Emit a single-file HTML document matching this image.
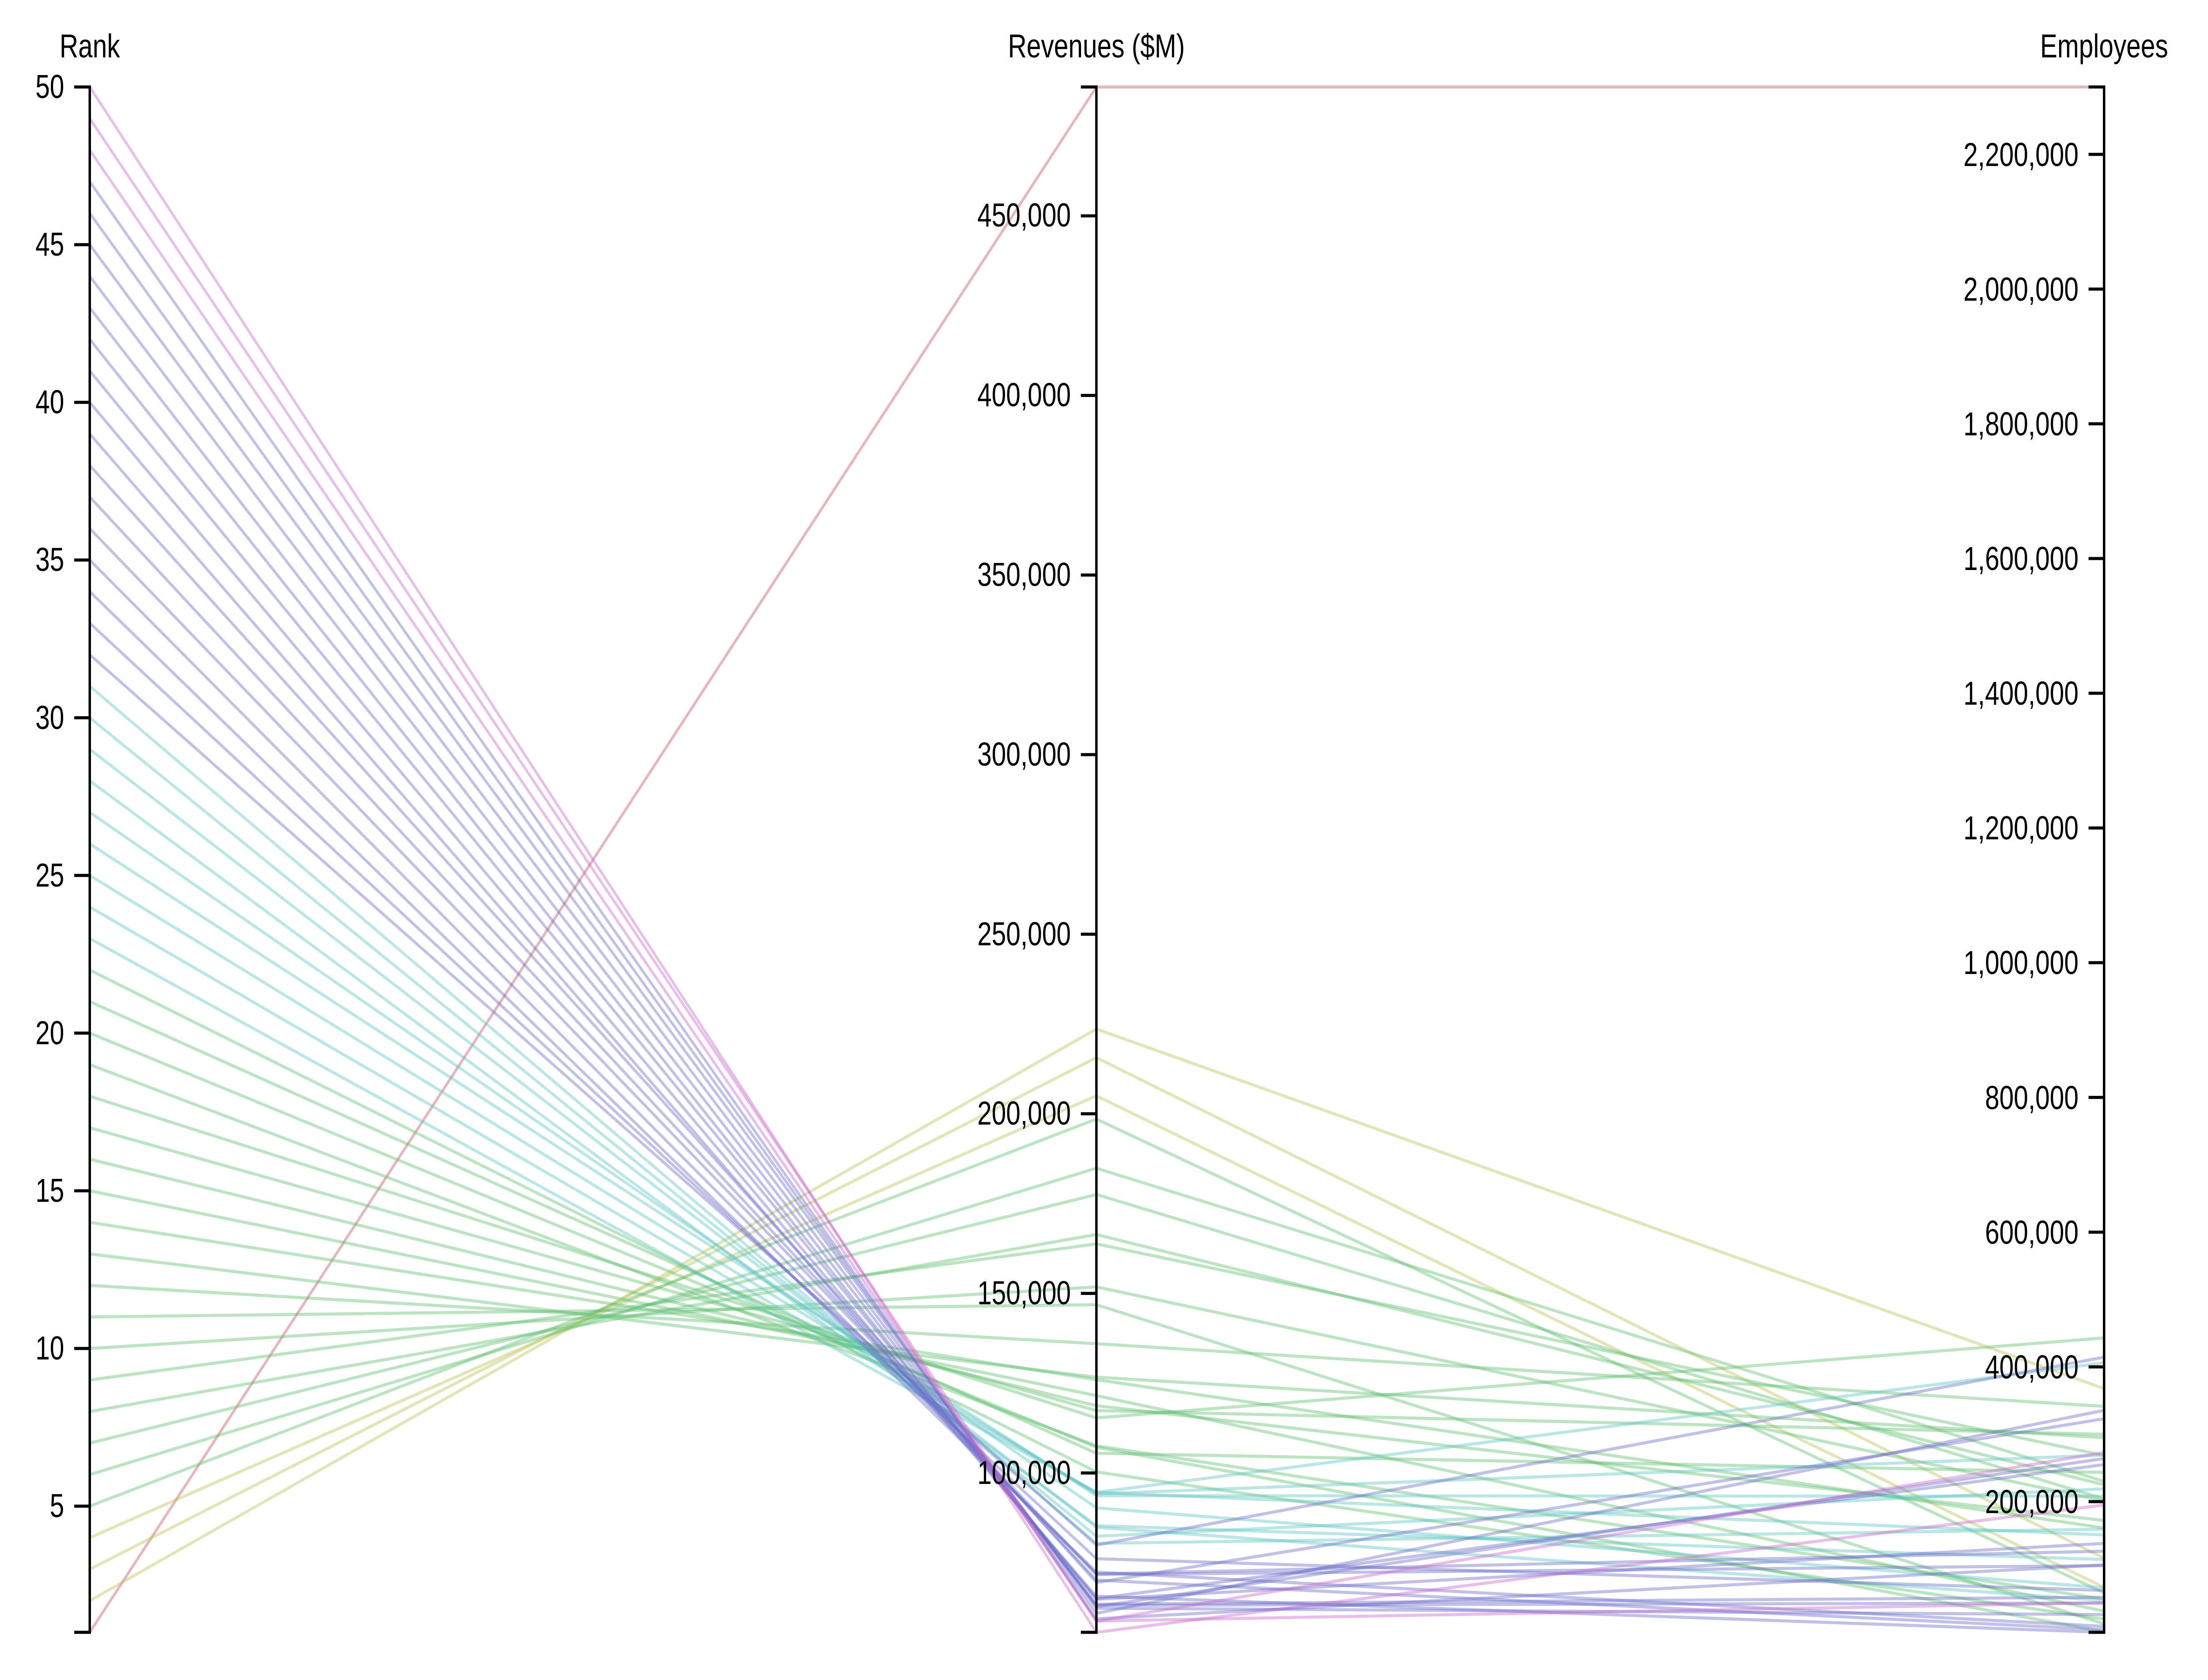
<!DOCTYPE html>
<html><head><meta charset="utf-8"><style>
html,body{margin:0;padding:0;background:#fff;width:100%;height:100%;overflow:hidden}
svg{display:block;width:100vw;height:100vh}
text{font-family:"Liberation Sans",Arial,sans-serif;fill:#000}
</style></head><body>
<svg id="s" viewBox="0 0 6396 3805" preserveAspectRatio="none" xmlns="http://www.w3.org/2000/svg">
<g id="lines" fill="none" stroke-width="7" stroke-opacity="0.42"></g>
<g stroke="#000" stroke-width="7" fill="none">
<path d="M215,197H260V3697H215"/>
<path d="M3131,197H3176V3697H3131"/>
<path d="M6050,197H6095V3697H6050"/>
</g>
<g id="ticks" stroke="#000" stroke-width="7"></g>
<g font-size="75" text-anchor="middle">
<text x="260" y="130">Rank</text>
<text x="3176" y="130">Revenues ($M)</text>
<text x="6095" y="130">Employees</text>
</g>
<g font-size="75" text-anchor="end" dominant-baseline="central">
<text x="186" y="197">50</text><text x="186" y="554">45</text><text x="186" y="911">40</text><text x="186" y="1268">35</text><text x="186" y="1626">30</text><text x="186" y="1983">25</text><text x="186" y="2340">20</text><text x="186" y="2697">15</text><text x="186" y="3054">10</text><text x="186" y="3411">5</text>
<text x="3102" y="3336">100,000</text><text x="3102" y="2929">150,000</text><text x="3102" y="2522">200,000</text><text x="3102" y="2116">250,000</text><text x="3102" y="1709">300,000</text><text x="3102" y="1302">350,000</text><text x="3102" y="895">400,000</text><text x="3102" y="488">450,000</text>
<text x="6021" y="3402">200,000</text><text x="6021" y="3097">400,000</text><text x="6021" y="2792">600,000</text><text x="6021" y="2487">800,000</text><text x="6021" y="2181">1,000,000</text><text x="6021" y="1876">1,200,000</text><text x="6021" y="1571">1,400,000</text><text x="6021" y="1266">1,600,000</text><text x="6021" y="961">1,800,000</text><text x="6021" y="656">2,000,000</text><text x="6021" y="351">2,200,000</text>
</g>
</svg>
<script>
var d=[[1,485873,2300000],[2,223604,367700],[3,215639,116000],[4,205004,72700],[5,198533,64500],[6,184840,230000],[7,177526,204000],[8,166380,225000],[9,163786,268540],[10,151800,201000],[11,146849,18500],[12,135987,341400],[13,126661,295000],[14,125980,160900],[15,121546,37300],[16,118719,172000],[17,117351,300000],[18,115337,443000],[19,107567,55200],[20,107162,7000],[21,105486,243355],[22,100288,25600],[23,94595,406000],[24,94571,150500],[25,94176,269100],[26,93662,208024],[27,90272,72053],[28,85320,114000],[29,84863,53000],[30,82386,219000],[31,80403,159000],[32,79919,414400],[33,76132,68234],[34,72396,14800],[35,71890,126400],[36,71726,105000],[37,70166,9996],[38,69495,323000],[39,65665,5982],[40,65017,255000],[41,64806,138000],[42,63476,58000],[43,63155,49500],[44,62799,264000],[45,62346,32300],[46,60906,335520],[47,59387,106000],[48,58779,49739],[49,58734,273000],[50,55632,195000]];
var T=197,B=3697,H=B-T;
function y(v,a,b){return B-(v-a)/(b-a)*H;}
function col(r){if(r==1)return"#c0505e";if(r<=4)return"#bcc056";if(r<=22)return"#5fbf70";if(r<=31)return"#5cc4c4";if(r<=47)return"#6b6bc8";return"#c866c8";}
var g=document.getElementById("lines"),ns="http://www.w3.org/2000/svg";
d.forEach(function(e){var p=document.createElementNS(ns,"path");
p.setAttribute("d","M260,"+y(e[0],1,50)+"L3176,"+y(e[1],55632,485873)+"L6095,"+y(e[2],5982,2300000));
p.setAttribute("stroke",col(e[0]));g.appendChild(p);});
var t=document.getElementById("ticks"),s="";
for(var r=5;r<=50;r+=5){var yy=y(r,1,50);s+="M215,"+yy+"H260";}
for(var v=100000;v<=450000;v+=50000){var yy=y(v,55632,485873);s+="M3131,"+yy+"H3176";}
for(var v=200000;v<=2200000;v+=200000){var yy=y(v,5982,2300000);s+="M6050,"+yy+"H6095";}
var p=document.createElementNS(ns,"path");p.setAttribute("d",s);t.appendChild(p);
</script>
</body></html>
